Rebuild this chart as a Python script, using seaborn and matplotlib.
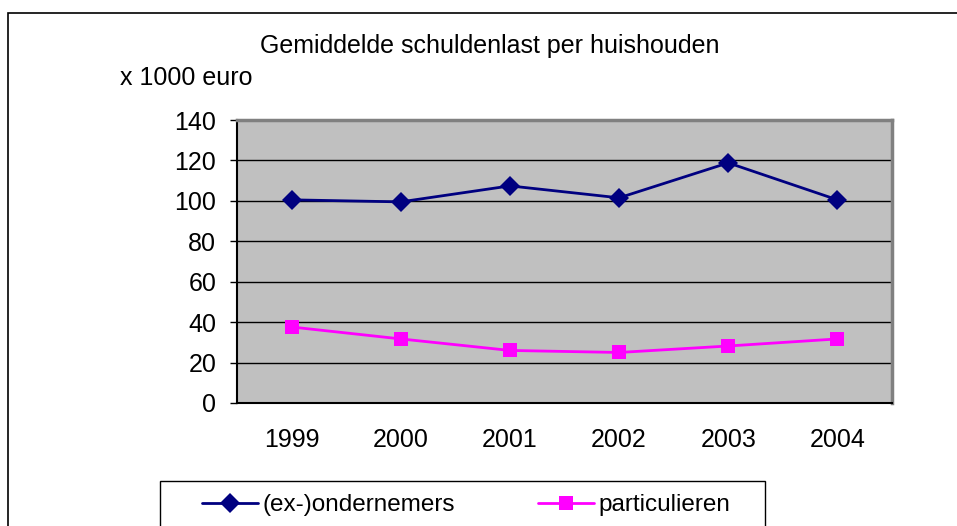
import matplotlib
matplotlib.use('Agg')
import pandas as pd
import matplotlib.pyplot as plt
import seaborn as sns
from matplotlib.patches import Rectangle

# Gemiddelde schuldenlast (x 1000 euro)
years = [1999, 2000, 2001, 2002, 2003, 2004]
ondernemers = [100.5, 99.5, 107.4, 101.5, 118.8, 100.5]
particulieren = [37.6, 31.7, 26.0, 25.0, 28.2, 31.7]
series_names = ["(ex-)ondernemers", "particulieren"]
y_ticks = [0, 20, 40, 60, 80, 100, 120, 140]

df = pd.DataFrame({
    "jaar": years * 2,
    "waarde": ondernemers + particulieren,
    "groep": [series_names[0]] * len(years) + [series_names[1]] * len(years),
})

sns.set_style("white")
plt.rcParams['font.family'] = ['Liberation Sans', 'DejaVu Sans']
plt.rcParams['text.color'] = 'black'
plt.rcParams['xtick.color'] = 'black'
plt.rcParams['ytick.color'] = 'black'

fig = plt.figure(figsize=(9.57, 5.26), dpi=100)
W, H = 957, 526
ax = fig.add_axes([237 / W, 1 - 403 / H, (892 - 237) / W, (403 - 120) / H])
ax.set_facecolor("#C0C0C0")

# outer chart frame (runs off the right and bottom edges)
fig.patches.append(Rectangle((8 / W, -0.05), 1.1, 1.05 - 13 / H,
                             transform=fig.transFigure, fill=False,
                             edgecolor="black", linewidth=1.2, zorder=0))
# legend box (cut off at bottom like the original)
fig.patches.append(Rectangle((160 / W, -0.05), (765 - 160) / W, 0.05 + 1 - 481 / H,
                             transform=fig.transFigure, fill=False,
                             edgecolor="black", linewidth=1, zorder=0))

sns.lineplot(data=df, x="jaar", y="waarde", hue="groep", style="groep",
             palette={series_names[0]: "#000080", series_names[1]: "#FF00FF"},
             markers={series_names[0]: "D", series_names[1]: "s"},
             dashes=False, linewidth=2, markersize=10, markeredgewidth=0,
             ax=ax, legend=True)

ax.set_xlim(years[0] - 0.5, years[-1] + 0.5)
ax.set_ylim(0, 140)
ax.set_yticks(y_ticks)
ax.set_xticks(years)
ax.set_xticks([y - 0.5 for y in years] + [years[-1] + 0.5], minor=True)
ax.grid(axis="y", color="black", linewidth=1)
ax.set_axisbelow(True)
ax.tick_params(axis="x", which="major", length=0, pad=18, labelsize=18)
ax.tick_params(axis="x", which="minor", length=6, width=1, direction="out", color="black")
ax.tick_params(axis="y", length=5, width=1, direction="out", color="black", pad=10, labelsize=18, left=True)
ax.set_xlabel("")
ax.set_ylabel("")

for side in ["top", "right"]:
    ax.spines[side].set_color("#808080")
    ax.spines[side].set_linewidth(2.5)
for side in ["left", "bottom"]:
    ax.spines[side].set_color("black")
    ax.spines[side].set_linewidth(1.5)

fig.text(490 / W, 1 - 46 / H, "Gemiddelde schuldenlast per huishouden",
         ha="center", va="center", fontsize=18)
fig.text(120 / W, 1 - 78 / H, "x 1000 euro", ha="left", va="center", fontsize=18)

handles, labels = ax.get_legend_handles_labels()
ax.get_legend().remove()
leg = fig.legend(handles, labels, loc="center left",
                 bbox_to_anchor=(202 / W, 1 - 505 / H), ncol=2,
                 frameon=False, fontsize=17.5, borderpad=0, borderaxespad=0,
                 handlelength=2.3, handletextpad=0.2, columnspacing=3.4)

fig.savefig("out.png", dpi=100)
